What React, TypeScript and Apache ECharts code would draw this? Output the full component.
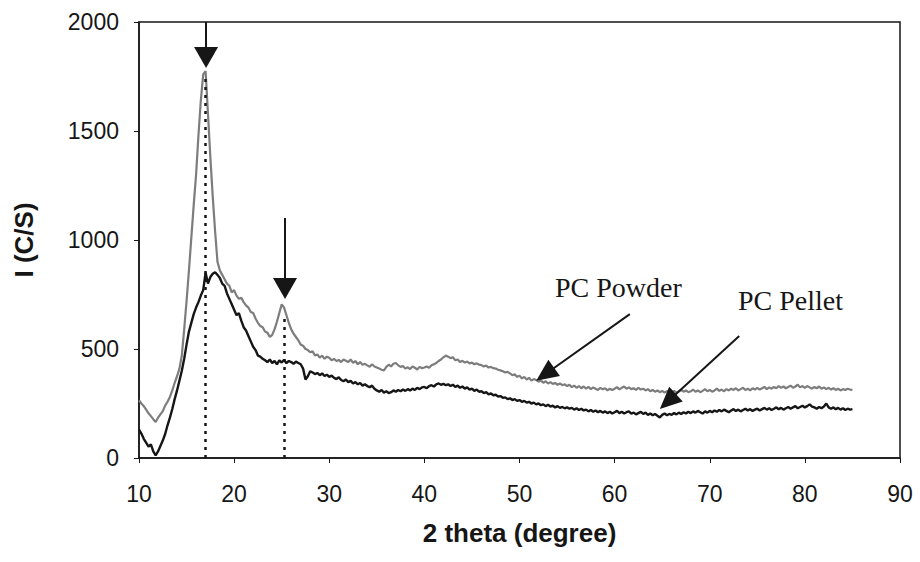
import React, { useEffect, useRef } from "react";
import * as echarts from "echarts";

// Diffraction scan grid: 2θ from 10° to 85° in 0.25° steps
const ANGLE_START = 10;
const ANGLE_STEP = 0.25;

// Intensity (counts per second) of the powder sample, one value per grid step
const powderIntensity = [
  265, 250, 238, 222, 205, 192, 178, 165, 185, 200, 215, 240, 258, 280, 310, 345, 375, 410, 470, 590,
  720, 860, 1010, 1160, 1300, 1480, 1640, 1760, 1775, 1580, 1380, 1200, 1040, 900, 860, 840, 820, 800, 790, 760,
  770, 745, 730, 735, 715, 700, 690, 670, 665, 640, 620, 605, 600, 580, 575, 555, 565, 590, 625, 665,
  705, 690, 655, 620, 590, 570, 555, 540, 520, 515, 500, 495, 485, 490, 470, 475, 460, 470, 455, 465,
  460, 448, 455, 445, 450, 440, 452, 446, 440, 452, 436, 445, 430, 440, 428, 432, 425, 418, 430, 420,
  415, 410, 405, 402, 418, 428, 420, 432, 436, 425, 418, 422, 410, 416, 408, 420, 414, 406, 418, 412,
  415, 420, 414, 425, 430, 436, 445, 452, 462, 470, 465, 458, 462, 448, 452, 440, 446, 438, 442, 434,
  438, 430, 434, 428, 426, 420, 424, 415, 418, 412, 410, 405, 402, 398, 392, 395, 388, 380, 384, 372,
  378, 365, 372, 360, 368, 355, 362, 358, 350, 356, 345, 352, 342, 348, 340, 344, 336, 342, 334, 338,
  330, 336, 325, 332, 322, 330, 320, 328, 318, 326, 316, 324, 318, 312, 322, 315, 320, 310, 318, 312,
  318, 325, 315, 322, 328, 318, 324, 316, 320, 312, 322, 314, 318, 310, 316, 306, 312, 304, 310, 302,
  308, 300, 306, 310, 302, 308, 300, 306, 312, 304, 310, 302, 306, 314, 304, 310, 302, 308, 316, 306,
  312, 304, 310, 318, 308, 314, 306, 316, 310, 318, 312, 320, 310, 316, 322, 312, 318, 310, 320, 314,
  322, 314, 320, 326, 316, 324, 318, 326, 320, 330, 322, 328, 320, 326, 332, 322, 328, 336, 324, 330,
  322, 330, 324, 318, 326, 320, 328, 318, 324, 316, 322, 314, 320, 312, 318, 310, 316, 312, 318, 314,
  312,
];

// Intensity (counts per second) of the pressed pellet, one value per grid step
const pelletIntensity = [
  130, 112, 88, 70, 52, 62, 30, 12, 30, 55, 80, 110, 150, 185, 225, 270, 310, 355, 400, 455,
  520, 580, 620, 660, 690, 715, 745, 770, 850, 800, 830, 845, 852, 840, 826, 800, 790, 755, 730, 705,
  680, 655, 665, 630, 600, 585, 560, 535, 510, 495, 470, 465, 455, 448, 440, 452, 436, 445, 430, 448,
  438, 450, 435, 445, 440, 432, 442, 436, 430, 410, 360, 375, 398, 392, 385, 390, 380, 388, 376, 382,
  372, 378, 368, 362, 370, 358, 352, 360, 348, 354, 342, 348, 338, 344, 332, 338, 330, 325, 332, 318,
  310, 304, 312, 300, 306, 298, 302, 310, 304, 312, 306, 314, 308, 316, 310, 318, 312, 322, 316, 324,
  326, 320, 330, 334, 328, 338, 342, 336, 340, 334, 338, 330, 336, 326, 332, 322, 328, 318, 324, 314,
  318, 308, 314, 304, 306, 298, 302, 292, 296, 288, 290, 282, 284, 276, 278, 270, 274, 266, 270, 262,
  266, 258, 262, 254, 258, 250, 254, 246, 250, 242, 246, 238, 244, 236, 240, 232, 238, 230, 234, 228,
  232, 226, 230, 222, 228, 220, 226, 218, 222, 214, 220, 212, 218, 210, 216, 208, 214, 206, 212, 204,
  210, 216, 206, 212, 204, 210, 214, 204, 208, 200, 206, 212, 202, 208, 198, 204, 196, 202, 194, 186,
  198, 204, 196, 202, 198, 206, 200, 208, 202, 210, 204, 212, 206, 214, 208, 216, 210, 204, 214, 208,
  216, 210, 218, 212, 220, 214, 222, 216, 210, 218, 224, 216, 222, 214, 220, 226, 218, 224, 216, 222,
  226, 218, 224, 230, 222, 228, 220, 226, 232, 224, 230, 222, 228, 234, 226, 232, 238, 228, 234, 240,
  232, 238, 246, 236, 232, 226, 234, 228, 236, 250, 232, 226, 232, 224, 230, 222, 228, 220, 226, 222,
  224,
];

// Axis ranges and tick spacing
const xTicks = { min: 10, max: 90, interval: 10 };
const yTicks = { min: 0, max: 2000, interval: 500 };

// Reflections marked on the plot: peak position and height of the dotted guide
const peakAngles = [17, 25.3];
const peakGuideTops = [1750, 650];

// Arrow heads pointing at the two reflections: [angle, tail intensity, head intensity]
const peakArrows = [
  [17.05, 2000, 1837],
  [25.35, 1101, 777],
];

// Callout arrows for the two traces: [[tail angle, tail I], [head angle, head I]]
const calloutArrows = [
  [[61.6, 660], [52.7, 384]],
  [[73.1, 560], [65.6, 259]],
];

const seriesNames = ["PC Powder", "PC Pellet"];

export default function App() {
  const ref = useRef<HTMLDivElement>(null);

  useEffect(() => {
    document.body.style.margin = "0";
    if (!ref.current) return;
    const chart = echarts.init(ref.current, undefined, { renderer: "svg" });

    const angles = powderIntensity.map((_, i) => ANGLE_START + i * ANGLE_STEP);
    const powderData = angles.map((a, i) => [a, powderIntensity[i]]);
    const pelletData = angles.map((a, i) => [a, pelletIntensity[i]]);

    const ink = "#161616";
    const sans = "'Liberation Sans', Arial, sans-serif";
    const serif = "'Liberation Serif', 'Times New Roman', serif";

    const guideLines = peakAngles.map((a, i) => [
      { coord: [a, 0], symbol: "none" },
      { coord: [a, peakGuideTops[i]], symbol: "none" },
    ]);
    const guideStyle = { color: ink, width: 2.5, type: [3, 5] };

    const arrowLines = [
      ...peakArrows.map(([a, from, to]) => [
        { coord: [a, from], symbol: "none" },
        { coord: [a, to], symbol: "triangle", symbolSize: [24, 21] },
      ]),
      ...calloutArrows.map(([from, to]) => [
        { coord: from, symbol: "none" },
        { coord: to, symbol: "triangle", symbolSize: [20, 22] },
      ]),
    ];

    chart.setOption({
      animation: false,
      backgroundColor: "#ffffff",
      grid: {
        left: 139,
        right: 20,
        top: 22,
        bottom: 104,
        show: true,
        borderColor: ink,
        borderWidth: 1.5,
      },
      xAxis: {
        type: "value",
        min: xTicks.min,
        max: xTicks.max,
        interval: xTicks.interval,
        name: "2 theta (degree)",
        nameLocation: "middle",
        nameGap: 62,
        nameTextStyle: { fontFamily: sans, fontSize: 26, fontWeight: "bold", color: ink },
        axisLine: { lineStyle: { color: ink, width: 1.5 } },
        axisTick: { show: true, length: 5, lineStyle: { color: ink } },
        axisLabel: { fontFamily: sans, fontSize: 23, color: ink, margin: 24 },
        splitLine: { show: false },
      },
      yAxis: {
        type: "value",
        min: yTicks.min,
        max: yTicks.max,
        interval: yTicks.interval,
        name: "I (C/S)",
        nameLocation: "middle",
        nameGap: 102,
        nameRotate: 90,
        nameTextStyle: { fontFamily: sans, fontSize: 26, fontWeight: "bold", color: ink },
        axisLine: { show: true, lineStyle: { color: ink, width: 1.5 } },
        axisTick: { show: true, length: 5, lineStyle: { color: ink } },
        axisLabel: {
          fontFamily: sans,
          fontSize: 23,
          color: ink,
          margin: 20,
          formatter: (v: number) => String(v),
        },
        splitLine: { show: false },
      },
      series: [
        {
          name: seriesNames[0],
          type: "line",
          data: powderData,
          showSymbol: false,
          symbol: "none",
          lineStyle: { color: "#7d7d7d", width: 2.2 },
          z: 2,
          markLine: {
            silent: true,
            symbol: "none",
            label: { show: false },
            lineStyle: guideStyle,
            data: guideLines,
          },
        },
        {
          name: seriesNames[1],
          type: "line",
          data: pelletData,
          showSymbol: false,
          symbol: "none",
          lineStyle: { color: ink, width: 2.4 },
          z: 3,
          markLine: {
            silent: true,
            label: { show: false },
            lineStyle: { color: ink, width: 2, type: "solid" },
            itemStyle: { color: "#2a2a2a" },
            data: arrowLines,
          },
        },
      ],
      graphic: [
        {
          type: "text",
          x: 555,
          y: 287.5,
          style: {
            text: seriesNames[0],
            font: `28px ${serif}`,
            fill: ink,
            verticalAlign: "middle",
          },
        },
        {
          type: "text",
          x: 738,
          y: 300.5,
          style: {
            text: seriesNames[1],
            font: `28px ${serif}`,
            fill: ink,
            verticalAlign: "middle",
          },
        },
      ],
    });

    return () => chart.dispose();
  }, []);

  return <div ref={ref} style={{ width: 920, height: 562 }} />;
}
